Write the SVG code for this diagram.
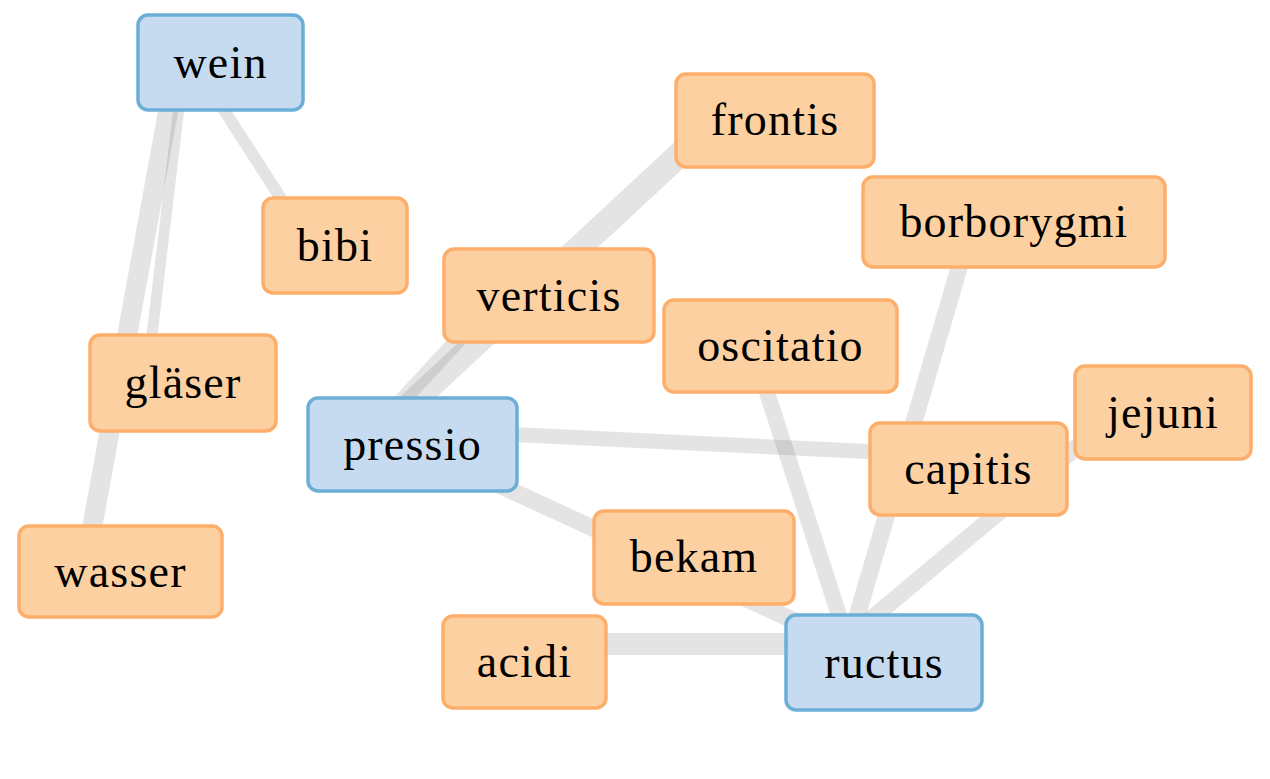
<svg xmlns="http://www.w3.org/2000/svg" width="1270" height="779" viewBox="0 0 1270 779">
<style>
.e{stroke:#777;stroke-opacity:0.2;fill:none}
.o rect{fill:#fdd0a2;stroke:#fdae6b;stroke-width:3.5}
.b rect{fill:#c6dbef;stroke:#6baed6;stroke-width:3.5}
text{font-family:"Liberation Serif","Times New Roman",serif;font-size:46px;fill:#000;text-anchor:middle;letter-spacing:1.2px}
</style>
<rect width="1270" height="779" fill="#fff"/>
<g id="edges">
<line class="e" x1="172" y1="90" x2="88" y2="550" stroke-width="20"/>
<line class="e" x1="181" y1="90" x2="149" y2="360" stroke-width="11"/>
<line class="e" x1="211" y1="90" x2="293" y2="217" stroke-width="12"/>
<line class="e" x1="372" y1="440" x2="706" y2="130" stroke-width="25"/>
<line class="e" x1="384" y1="420" x2="470" y2="327" stroke-width="16"/>
<line class="e" x1="480" y1="433" x2="900" y2="453" stroke-width="15"/>
<line class="e" x1="412" y1="445" x2="884" y2="662" stroke-width="17"/>
<line class="e" x1="763" y1="380" x2="847" y2="640" stroke-width="16"/>
<line class="e" x1="962" y1="258" x2="853" y2="630" stroke-width="17"/>
<line class="e" x1="1109" y1="420" x2="846" y2="640" stroke-width="17"/>
<line class="e" x1="540" y1="644" x2="880" y2="644" stroke-width="22"/>
</g>
<g id="wein" class="b"><rect x="138" y="15" width="165" height="95" rx="10"/><text x="220.5" y="78">wein</text></g>
<g id="bibi" class="o"><rect x="263" y="198" width="144" height="95" rx="10"/><text x="335" y="261">bibi</text></g>
<g id="glaeser" class="o"><rect x="90" y="335" width="186" height="96" rx="10"/><text x="183" y="398">gläser</text></g>
<g id="wasser" class="o"><rect x="19" y="526" width="203" height="91" rx="10"/><text x="120.5" y="587">wasser</text></g>
<g id="frontis" class="o"><rect x="676" y="74" width="198" height="93" rx="10"/><text x="775" y="135">frontis</text></g>
<g id="verticis" class="o"><rect x="444" y="249" width="210" height="93" rx="10"/><text x="549" y="311">verticis</text></g>
<g id="borborygmi" class="o"><rect x="863" y="177" width="302" height="90" rx="10"/><text x="1014" y="237">borborygmi</text></g>
<g id="oscitatio" class="o"><rect x="664" y="300" width="233" height="92" rx="10"/><text x="780.5" y="361">oscitatio</text></g>
<g id="pressio" class="b"><rect x="308" y="398" width="209" height="93" rx="10"/><text x="412.5" y="460">pressio</text></g>
<g id="jejuni" class="o"><rect x="1075" y="366" width="176" height="93" rx="10"/><text x="1163" y="428">jejuni</text></g>
<g id="capitis" class="o"><rect x="870" y="423" width="197" height="92" rx="10"/><text x="968.5" y="484">capitis</text></g>
<g id="bekam" class="o"><rect x="594" y="511" width="200" height="93" rx="10"/><text x="694" y="572">bekam</text></g>
<g id="acidi" class="o"><rect x="443" y="616" width="163" height="92" rx="10"/><text x="524.5" y="677">acidi</text></g>
<g id="ructus" class="b"><rect x="786" y="615" width="196" height="95" rx="10"/><text x="884" y="678">ructus</text></g>
</svg>
